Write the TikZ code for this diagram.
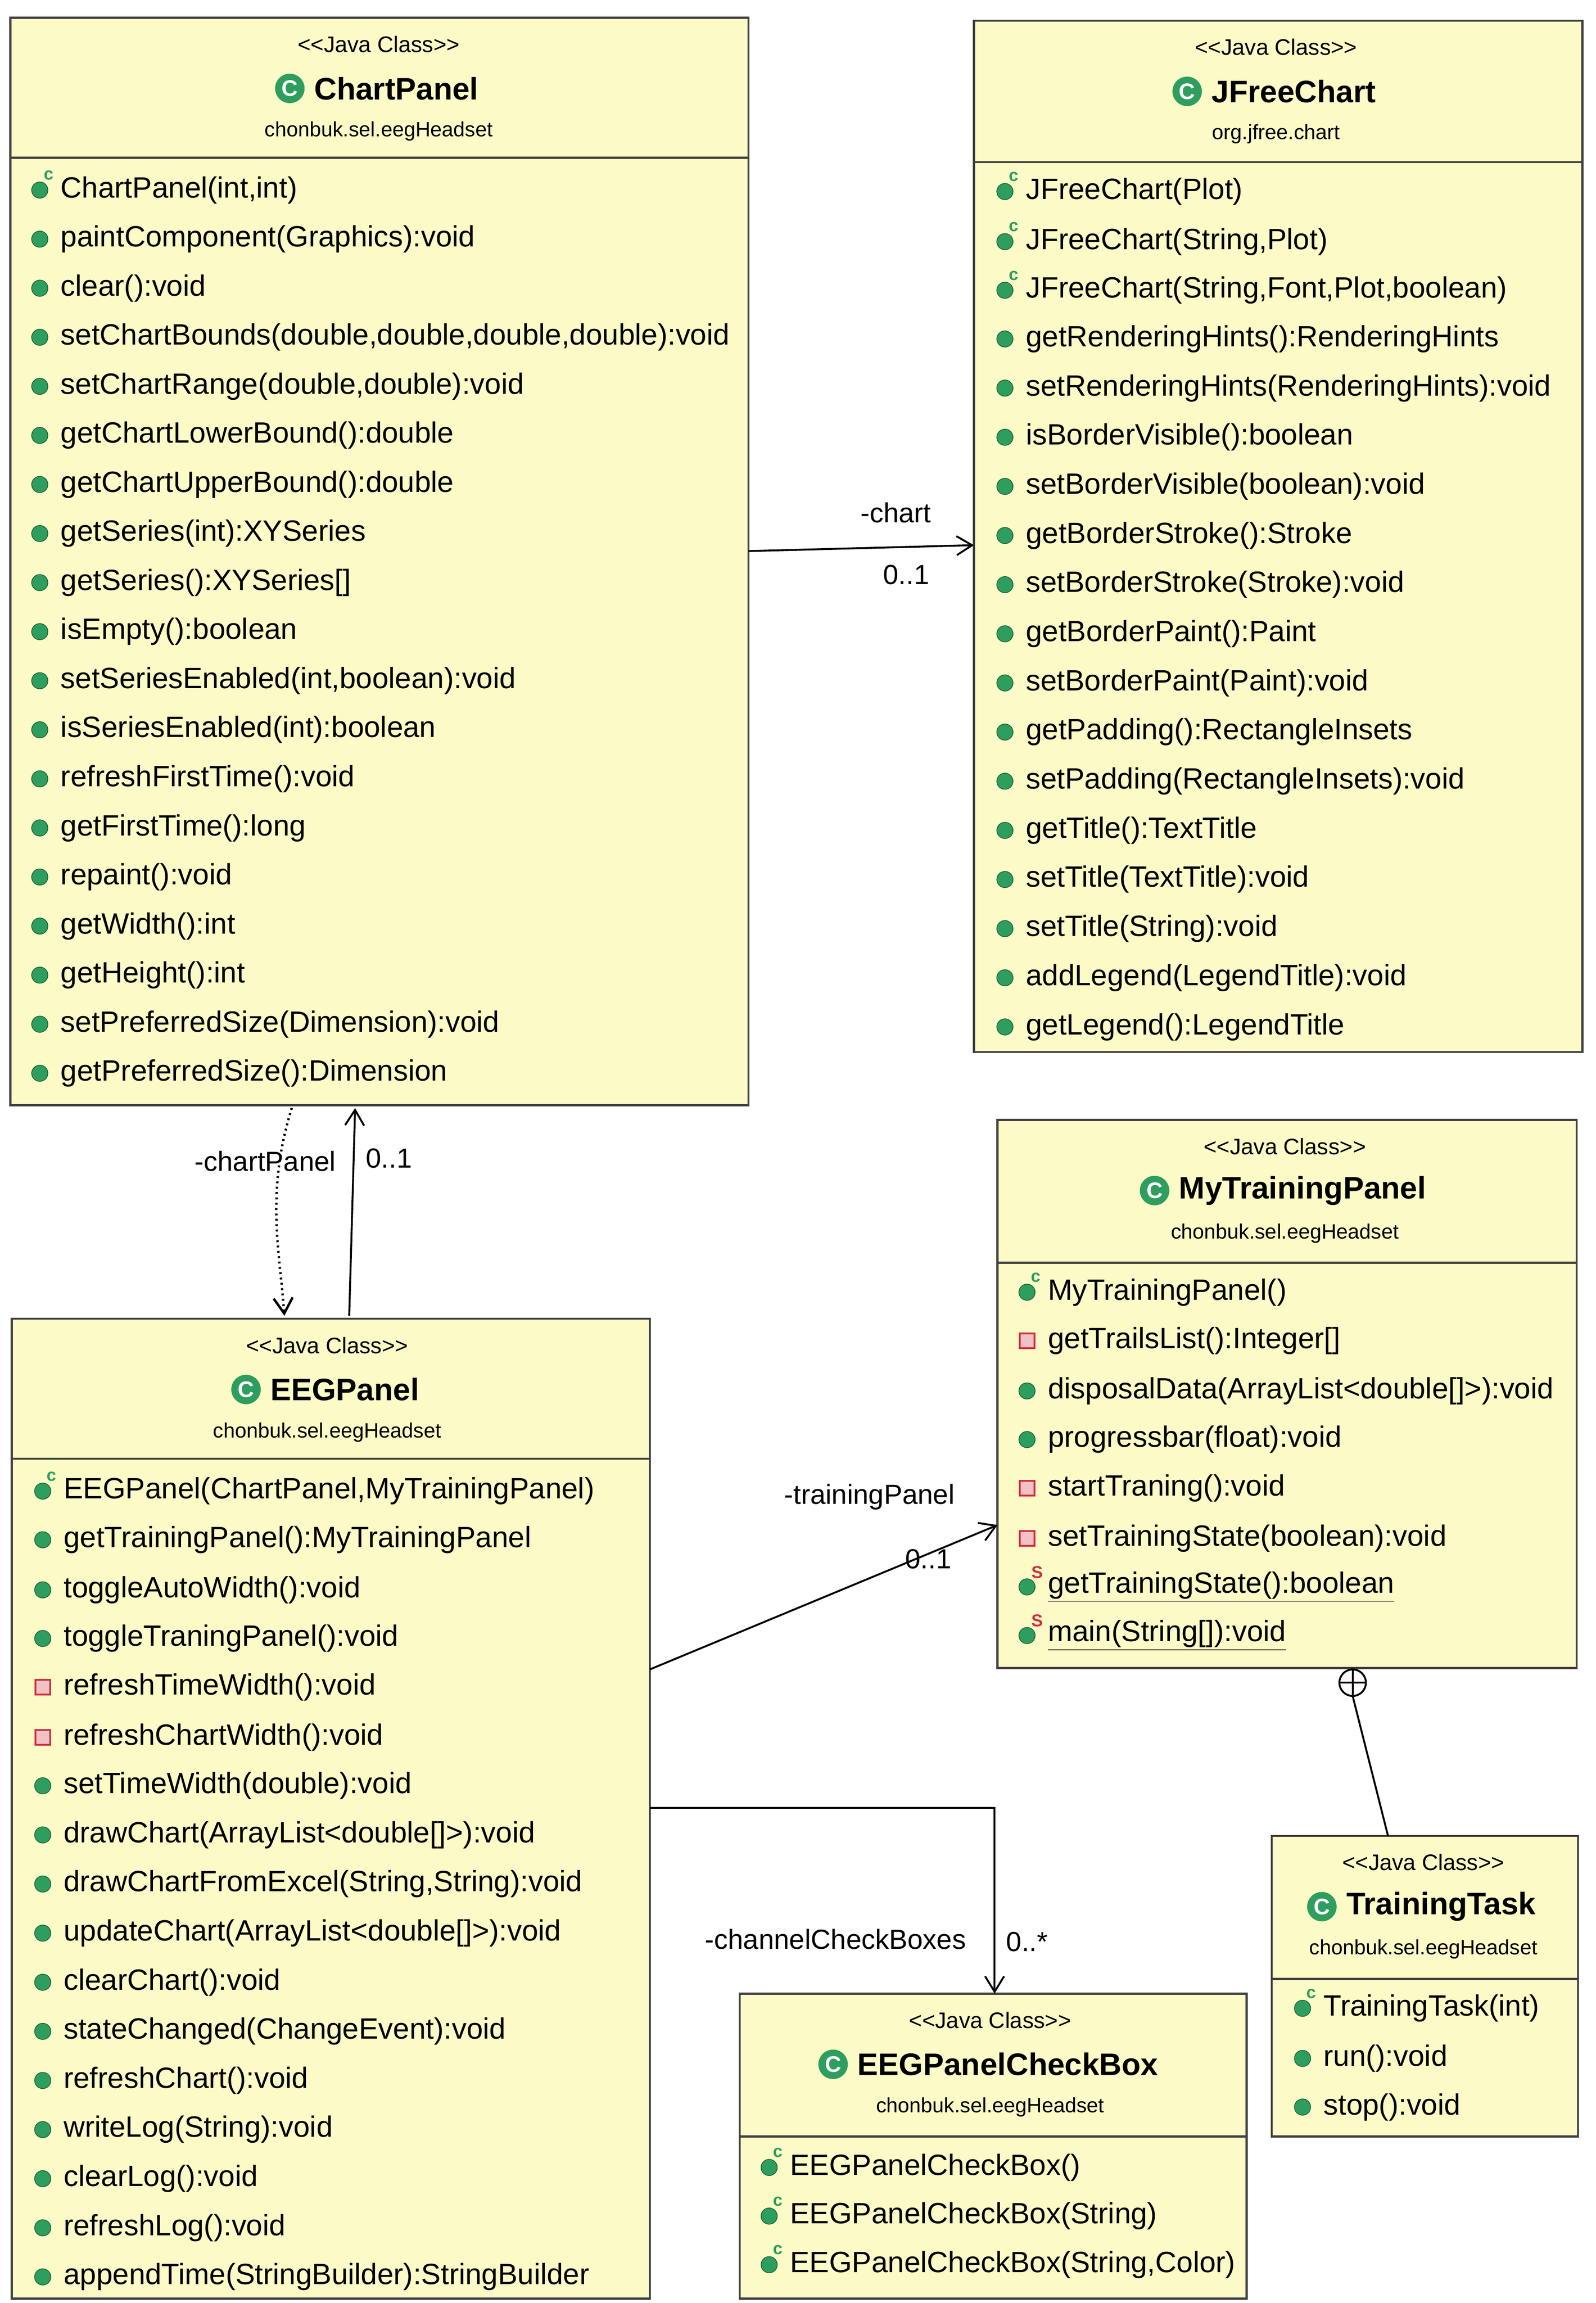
\documentclass[tikz,border=0pt]{standalone}
\usepackage{fontspec}
\setmainfont{Liberation Sans}
\usetikzlibrary{arrows.meta}
\definecolor{cls}{HTML}{FCFAC6}
\definecolor{icg}{HTML}{2E9E5E}
\definecolor{icr}{HTML}{D03040}
\tikzset{
  box/.style={draw=black!75,line width=1.2pt,fill=cls},
  mt/.style={anchor=west,inner sep=0pt,font=\fontsize{17}{19}\selectfont},
  st/.style={anchor=center,inner sep=0pt,font=\fontsize{13}{15}\selectfont},
  nm/.style={anchor=center,inner sep=0pt,font=\fontsize{18}{20}\selectfont\bfseries},
  pk/.style={anchor=center,inner sep=0pt,font=\fontsize{12}{14}\selectfont},
  con/.style={line width=1.1pt,-{Straight Barb[length=9pt,width=11pt]}},
  lb/.style={inner sep=0pt,font=\fontsize{16}{18}\selectfont},
}
\newcommand\pubi[2]{\fill[icg,draw=icg!60!black] (#1,#2) circle (5.5);}
\newcommand\ctori[2]{\pubi{#1}{#2}\node[inner sep=0pt,text=icg,font=\fontsize{10}{10}\selectfont\bfseries] at (#1+6,#2-10) {c};}
\newcommand\privi[2]{\fill[icr!30,draw=icr,line width=1pt] (#1-5,#2-5) rectangle (#1+5,#2+5);}
\newcommand\stati[2]{\pubi{#1}{#2}\node[inner sep=0pt,text=icr,font=\fontsize{10}{10}\selectfont\bfseries] at (#1+7,#2-10) {S};}
\newcommand\mrow[4]{#1{#2}{#3}\node[mt] at (#2+14,#3) {#4};}
\newcommand\head[5]{%
  \node[st] at (#1,#2+18) {{<}{<}Java Class{>}{>}};
  \node[nm] (#3t) at (#1+12,#2+48) {#3};
  \fill[icg] ([xshift=-14]#3t.west) circle (10);
  \node[text=white,inner sep=0pt,font=\fontsize{13}{13}\selectfont\bfseries] at ([xshift=-14]#3t.west) {C};
  \node[pk] at (#1,#2+77) {#4};}
\begin{document}
\begin{tikzpicture}[x=0.03cm,y=-0.03cm]
\useasboundingbox (0,0) rectangle (1083,1563);
% ChartPanel
\draw[box] (7,12) rectangle (508,750); \draw[black!75,line width=1.2pt] (7,107)--(508,107);
\head{257}{12}{ChartPanel}{chonbuk.sel.eegHeadset}{}
\foreach \kk/\txt in {1/{paintComponent(Graphics):void},2/{clear():void},3/{setChartBounds(double,double,double,double):void},4/{setChartRange(double,double):void},5/{getChartLowerBound():double},6/{getChartUpperBound():double},7/{getSeries(int):XYSeries},8/{getSeries():XYSeries[]},9/{isEmpty():boolean},10/{setSeriesEnabled(int,boolean):void},11/{isSeriesEnabled(int):boolean},12/{refreshFirstTime():void},13/{getFirstTime():long},14/{repaint():void},15/{getWidth():int},16/{getHeight():int},17/{setPreferredSize(Dimension):void},18/{getPreferredSize():Dimension}}
  {\pgfmathsetmacro\yy{129+33.3*\kk}\mrow{\pubi}{27}{\yy}{\txt}}
\mrow{\ctori}{27}{129}{ChartPanel(int,int)}
% JFreeChart
\draw[box] (661,14) rectangle (1074,714); \draw[black!75,line width=1.2pt] (661,110)--(1074,110);
\head{866}{14}{JFreeChart}{org.jfree.chart}{}
\mrow{\ctori}{682}{130}{JFreeChart(Plot)}
\mrow{\ctori}{682}{164}{JFreeChart(String,Plot)}
\mrow{\ctori}{682}{197}{JFreeChart(String,Font,Plot,boolean)}
\foreach \kk/\txt in {3/{getRenderingHints():RenderingHints},4/{setRenderingHints(RenderingHints):void},5/{isBorderVisible():boolean},6/{setBorderVisible(boolean):void},7/{getBorderStroke():Stroke},8/{setBorderStroke(Stroke):void},9/{getBorderPaint():Paint},10/{setBorderPaint(Paint):void},11/{getPadding():RectangleInsets},12/{setPadding(RectangleInsets):void},13/{getTitle():TextTitle},14/{setTitle(TextTitle):void},15/{setTitle(String):void},16/{addLegend(LegendTitle):void},17/{getLegend():LegendTitle}}
  {\pgfmathsetmacro\yy{130+33.35*\kk}\mrow{\pubi}{682}{\yy}{\txt}}
% MyTrainingPanel
\draw[box] (677,760) rectangle (1070,1132); \draw[black!75,line width=1.2pt] (677,857)--(1070,857);
\head{872}{760}{MyTrainingPanel}{chonbuk.sel.eegHeadset}{}
\mrow{\ctori}{697}{877}{MyTrainingPanel()}
\mrow{\privi}{697}{910}{getTrailsList():Integer[]}
\mrow{\pubi}{697}{944}{disposalData(ArrayList<double[]>):void}
\mrow{\pubi}{697}{977}{progressbar(float):void}
\mrow{\privi}{697}{1010}{startTraning():void}
\mrow{\privi}{697}{1044}{setTrainingState(boolean):void}
\mrow{\stati}{697}{1077}{\underline{getTrainingState():boolean}}
\mrow{\stati}{697}{1110}{\underline{main(String[]):void}}
% EEGPanel
\draw[box] (8,895) rectangle (441,1560); \draw[black!75,line width=1.2pt] (8,990)--(441,990);
\head{222}{895}{EEGPanel}{chonbuk.sel.eegHeadset}{}
\mrow{\ctori}{29}{1012}{EEGPanel(ChartPanel,MyTrainingPanel)}
\mrow{\pubi}{29}{1045}{getTrainingPanel():MyTrainingPanel}
\mrow{\pubi}{29}{1079}{toggleAutoWidth():void}
\mrow{\pubi}{29}{1112}{toggleTraningPanel():void}
\mrow{\privi}{29}{1145}{refreshTimeWidth():void}
\mrow{\privi}{29}{1179}{refreshChartWidth():void}
\foreach \kk/\txt in {6/{setTimeWidth(double):void},7/{drawChart(ArrayList<double[]>):void},8/{drawChartFromExcel(String,String):void},9/{updateChart(ArrayList<double[]>):void},10/{clearChart():void},11/{stateChanged(ChangeEvent):void},12/{refreshChart():void},13/{writeLog(String):void},14/{clearLog():void},15/{refreshLog():void},16/{appendTime(StringBuilder):StringBuilder}}
  {\pgfmathsetmacro\yy{1012+33.33*\kk}\mrow{\pubi}{29}{\yy}{\txt}}
% TrainingTask
\draw[box] (863,1246) rectangle (1071,1450); \draw[black!75,line width=1.2pt] (863,1343)--(1071,1343);
\head{966}{1246}{TrainingTask}{chonbuk.sel.eegHeadset}{}
\mrow{\ctori}{884}{1363}{TrainingTask(int)}
\mrow{\pubi}{884}{1397}{run():void}
\mrow{\pubi}{884}{1430}{stop():void}
% EEGPanelCheckBox
\draw[box] (502,1353) rectangle (846,1560); \draw[black!75,line width=1.2pt] (502,1450)--(846,1450);
\head{672}{1353}{EEGPanelCheckBox}{chonbuk.sel.eegHeadset}{}
\mrow{\ctori}{522}{1471}{EEGPanelCheckBox()}
\mrow{\ctori}{522}{1504}{EEGPanelCheckBox(String)}
\mrow{\ctori}{522}{1537}{EEGPanelCheckBox(String,Color)}
% connectors
\coordinate (a1) at (508,374); \coordinate (a2) at (661,370);
\draw[con] (a1) -- (a2);
\node[lb] (l1) at (608,348) {-chart}; \node[lb] (l2) at (615,390) {0..1};
\coordinate (b1) at (198,752); \coordinate (b2) at (193,893);
\draw[con,dotted,line width=1.4pt] (b1) .. controls (180,810) and (190,850) .. (b2);
\node[lb] (l3) at (180,788) {-chartPanel};
\coordinate (c1) at (237,893); \coordinate (c2) at (241,752);
\draw[con] (c1) -- (c2);
\node[lb] (l4) at (264,786) {0..1};
\coordinate (d1) at (441,1133); \coordinate (d2) at (677,1035);
\draw[con] (d1) -- (d2);
\node[lb] (l5) at (590,1016) {-trainingPanel}; \node[lb] (l6) at (630,1058) {0..1};
\coordinate (e1) at (441,1227); \coordinate (e2) at (675,1353);
\draw[con] (e1) -| (e2);
\node[lb] (l7) at (567,1316) {-channelCheckBoxes}; \node[lb] (l8) at (697,1318) {0..*};
\coordinate (f2) at (942,1246);
\draw[line width=1.1pt] (918,1142) circle (9);
\draw[line width=1pt] (909,1142)--(927,1142) (918,1133)--(918,1151);
\draw[line width=1.1pt] (918,1151) -- (f2);
\end{tikzpicture}
\end{document}
